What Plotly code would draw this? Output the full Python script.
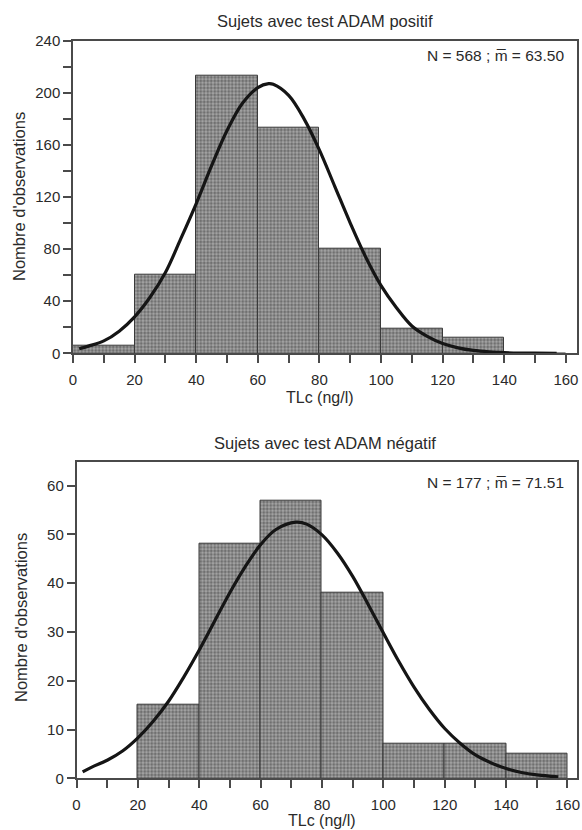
import plotly.graph_objects as go

W, H = 582, 830

# ---------------- data ----------------
bin_lower = [0, 20, 40, 60, 80, 100, 120, 140]
bin_width = 20

pos_counts = [6, 60, 213, 173, 80, 19, 12, 0]
neg_counts = [15, 48, 57, 38, 7, 7, 5]
neg_lower = [20, 40, 60, 80, 100, 120, 140]

pos_curve_x = [2, 5, 10, 15, 20, 25, 30, 35, 40, 45, 50, 55, 60, 63.5, 65, 70, 75, 80, 85,
               90, 95, 100, 105, 110, 115, 120, 125, 130, 135, 140, 145, 150, 157]
pos_curve_y = [3.5, 5.5, 9.5, 17, 28, 43, 62, 88, 115, 144, 171, 192, 204, 207, 206.5, 198,
               180, 156, 128, 100, 74, 52, 35, 21, 13, 7.5, 4.2, 2.2, 1.1, 0.5, 0.2, 0.1, 0]

neg_curve_x = [2, 5, 10, 15, 20, 25, 30, 35, 40, 45, 50, 55, 60, 65, 71.5, 75, 80, 85, 90,
               95, 100, 105, 110, 115, 120, 125, 130, 135, 140, 145, 150, 155, 157]
neg_curve_y = [1.3, 2.3, 3.7, 5.6, 8.3, 11.7, 15.8, 20.8, 26.3, 32.2, 38.1, 43.4, 47.9, 51.0,
               52.5, 52.1, 49.9, 46.2, 41.4, 35.7, 29.8, 24.0, 18.7, 14.1, 10.2, 7.2, 4.8, 3.2,
               2.0, 1.2, 0.7, 0.4, 0.3]

x_tickvals = [0, 10, 20, 30, 40, 50, 60, 70, 80, 90, 100, 110, 120, 130, 140, 150, 160]
x_ticktext = ["0", "", "20", "", "40", "", "60", "", "80", "", "100", "", "120", "", "140", "", "160"]
pos_y_tickvals = [0, 20, 40, 60, 80, 100, 120, 140, 160, 180, 200, 220, 240]
pos_y_ticktext = ["0", "", "40", "", "80", "", "120", "", "160", "", "200", "", "240"]
neg_y_tickvals = [0, 10, 20, 30, 40, 50, 60]
neg_y_ticktext = ["0", "10", "20", "30", "40", "50", "60"]

title_pos = "Sujets avec test ADAM positif"
title_neg = "Sujets avec test ADAM négatif"
stat_pos = "N = 568 ; m\u0305 = 63.50"
stat_neg = "N = 177 ; m\u0305 = 71.51"
x_title = "TLc (ng/l)"
y_title = "Nombre d'observations"

# ---------------- style ----------------
FONT = "Liberation Sans, Arial, sans-serif"
TXT = "#2a2a2a"
AX = "#4a4a4a"
bar_marker = dict(
    color="#7a7a7a",
    pattern=dict(shape=".", size=3.5, solidity=0.55, fgcolor="#3a3a3a", bgcolor="#a6a6a6"),
    line=dict(color="#3a3a3a", width=1),
)

fig = go.Figure()
fig.add_trace(go.Bar(x=bin_lower, y=pos_counts, width=bin_width, offset=0,
                     marker=bar_marker, xaxis="x", yaxis="y", showlegend=False))
fig.add_trace(go.Scatter(x=pos_curve_x, y=pos_curve_y, mode="lines",
                         line=dict(color="#151515", width=3.2, shape="spline"),
                         xaxis="x", yaxis="y", showlegend=False))
fig.add_trace(go.Bar(x=neg_lower, y=neg_counts, width=bin_width, offset=0,
                     marker=bar_marker, xaxis="x2", yaxis="y2", showlegend=False))
fig.add_trace(go.Scatter(x=neg_curve_x, y=neg_curve_y, mode="lines",
                         line=dict(color="#151515", width=3.2, shape="spline"),
                         xaxis="x2", yaxis="y2", showlegend=False))

def px_x(p):
    return p / W

def px_y(p):
    return 1 - p / H

common_ax = dict(showline=True, mirror=True, linecolor=AX, linewidth=1.5,
                 ticks="outside", ticklen=8, tickwidth=1.5, tickcolor=AX,
                 showgrid=False, zeroline=False, automargin=False,
                 tickfont=dict(family=FONT, size=15, color=TXT), fixedrange=True)

fig.update_layout(
    width=W, height=H,
    margin=dict(l=0, r=0, t=0, b=0),
    paper_bgcolor="white", plot_bgcolor="white",
    bargap=0,
    xaxis=dict(domain=[px_x(73), px_x(577)], range=[0, 163.6], anchor="y",
               tickmode="array", tickvals=x_tickvals, ticktext=x_ticktext,
               ticklabelstandoff=4, **common_ax),
    yaxis=dict(domain=[px_y(353.3), px_y(40.7)], range=[0, 240], anchor="x",
               tickmode="array", tickvals=pos_y_tickvals, ticktext=pos_y_ticktext, **common_ax),
    xaxis2=dict(domain=[px_x(76.5), px_x(577)], range=[0, 163.1], anchor="y2",
                tickmode="array", tickvals=x_tickvals, ticktext=x_ticktext,
                ticklabelstandoff=4, **common_ax),
    yaxis2=dict(domain=[px_y(778.3), px_y(461.7)], range=[0, 64.9], anchor="x2",
                tickmode="array", tickvals=neg_y_tickvals, ticktext=neg_y_ticktext, **common_ax),
)

def ann(text, x, y, size=16, xanchor="center", angle=0):
    fig.add_annotation(text=text, xref="paper", yref="paper", x=px_x(x), y=px_y(y),
                       xanchor=xanchor, yanchor="middle", showarrow=False, textangle=angle,
                       font=dict(family=FONT, size=size, color=TXT))

ann(title_pos, 325, 21, size=16.5)
ann(title_neg, 325, 443, size=16.5)
ann(stat_pos, 566, 55, size=15.5, xanchor="right")
ann(stat_neg, 566, 482, size=15.5, xanchor="right")
ann(x_title, 320, 397, size=16)
ann(x_title, 322, 820, size=16)
ann(y_title, 19, 197, size=16.5, angle=-90)
ann(y_title, 21, 618, size=16.5, angle=-90)

fig.write_html("out.html", config={"displayModeBar": False},
               post_script="document.body.style.margin='0';document.body.style.overflow='hidden';")
